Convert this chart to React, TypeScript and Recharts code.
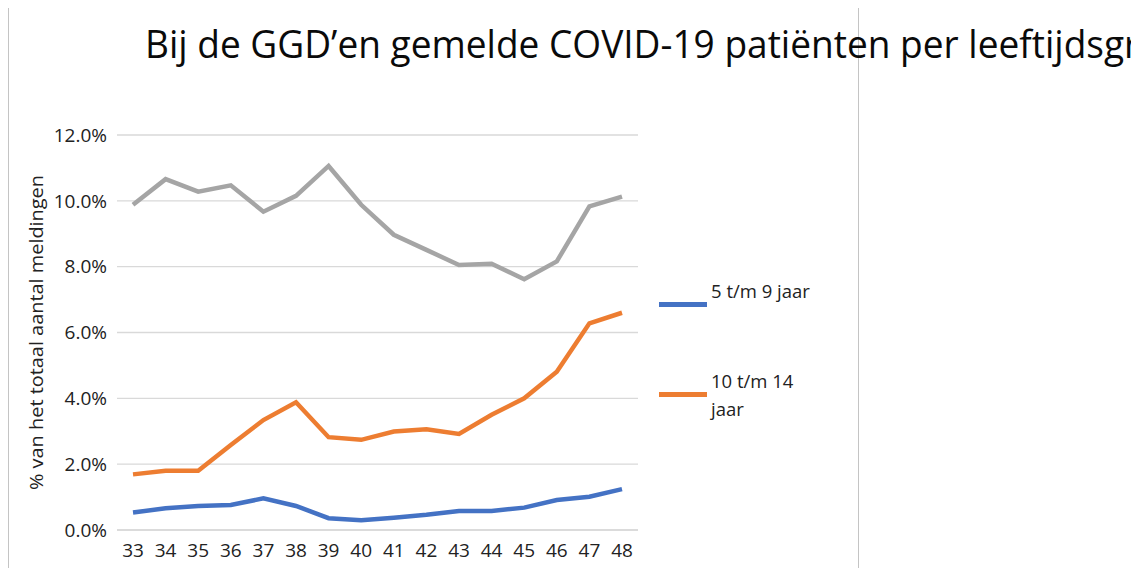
import React from 'react';
import { LineChart, Line, XAxis, YAxis, CartesianGrid, Legend, Label } from 'recharts';

// weeknummers
const weeks = ['33', '34', '35', '36', '37', '38', '39', '40', '41', '42', '43', '44', '45', '46', '47', '48'];

// % van het totaal aantal meldingen
const jaar5tm9 = [0.53, 0.66, 0.73, 0.76, 0.96, 0.73, 0.36, 0.3, 0.37, 0.46, 0.58, 0.58, 0.68, 0.91, 1.01, 1.24];
const jaar10tm14 = [1.69, 1.8, 1.8, 2.58, 3.34, 3.88, 2.82, 2.74, 2.99, 3.06, 2.92, 3.5, 4.0, 4.81, 6.28, 6.6];
const grijzeReeks = [9.88, 10.66, 10.28, 10.47, 9.67, 10.15, 11.06, 9.88, 8.97, 8.51, 8.05, 8.09, 7.62, 8.16, 9.83, 10.13];

const yTicks = [0, 2, 4, 6, 8, 10, 12];
const legendOrder = ['5 t/m 9 jaar', '10 t/m 14 jaar'];

const data = weeks.map((week, i) => ({
  week,
  a: jaar5tm9[i],
  b: jaar10tm14[i],
  c: grijzeReeks[i],
}));

const FONT = "'Open Sans', 'DejaVu Sans', sans-serif";
const TEXT = '#222222';

const LegendBox = ({ payload }: any) => {
  const items = (payload || [])
    .filter((p: any) => legendOrder.includes(p.value))
    .sort((x: any, y: any) => legendOrder.indexOf(x.value) - legendOrder.indexOf(y.value));
  return (
    <div style={{ fontFamily: FONT, fontSize: 18.5, color: TEXT }}>
      {items.map((p: any, i: number) => (
        <div key={i} style={{ position: 'relative', height: 90 }}>
          <div style={{ position: 'absolute', left: 0, top: 25, width: 48, height: 5, background: p.color }} />
          <div style={{ position: 'absolute', left: 52, top: 0, width: 110, lineHeight: '28px' }}>{p.value}</div>
        </div>
      ))}
    </div>
  );
};

const AxisTitle = ({ viewBox }: any) => {
  const cx = viewBox.x + 36;
  const cy = viewBox.y + viewBox.height / 2;
  return (
    <text
      x={cx}
      y={cy}
      transform={`rotate(-90, ${cx}, ${cy})`}
      textAnchor="middle"
      dominantBaseline="central"
      fontFamily={FONT}
      fontSize={17.5}
      fill={TEXT}
      textLength={315}
      lengthAdjust="spacingAndGlyphs"
    >
      % van het totaal aantal meldingen
    </text>
  );
};

export default function App() {
  return (
    <div style={{ position: 'relative', width: 1139, height: 576, margin: -8, overflow: 'hidden', background: '#fff' }}>
      <div
        style={{
          position: 'absolute',
          left: 8,
          top: 7,
          width: 849,
          height: 565,
          border: '1px solid #c4c4c4',
          pointerEvents: 'none',
        }}
      />
      <svg width={1139} height={80} style={{ position: 'absolute', left: 0, top: 0 }}>
        <text x={145} y={58} fontFamily={FONT} fontSize={38} fill="#0a0a0a" textLength={1060} lengthAdjust="spacingAndGlyphs">
          Bij de GGD’en gemelde COVID-19 patiënten per leeftijdsgroep
        </text>
      </svg>
      <div style={{ position: 'absolute', left: 0, top: 0 }}>
        <LineChart width={1139} height={576} data={data} margin={{ top: 135, right: 501, bottom: 0, left: 0 }}>
          <CartesianGrid vertical={false} stroke="#d9d9d9" strokeWidth={1.3} />
          <XAxis
            dataKey="week"
            height={46}
            padding={{ left: 16, right: 16 }}
            tickLine={false}
            axisLine={{ stroke: '#d9d9d9', strokeWidth: 1.3 }}
            tickMargin={8}
            tick={{ fill: TEXT, fontSize: 19, fontFamily: FONT }}
            interval={0}
          />
          <YAxis
            width={117}
            domain={[0, 12]}
            ticks={yTicks}
            axisLine={false}
            tickLine={false}
            tickMargin={4}
            tick={{ fill: TEXT, fontSize: 19, fontFamily: FONT }}
            tickFormatter={(v: number) => `${v.toFixed(1)}%`}
          >
            <Label content={AxisTitle} />
          </YAxis>
          <Legend
            layout="vertical"
            align="center"
            verticalAlign="middle"
            content={LegendBox}
            wrapperStyle={{ left: 659, top: 277, width: 180 }}
          />
          <Line type="linear" dataKey="c" name="overige leeftijdsgroep" stroke="#a5a5a5" strokeWidth={4.5} dot={false} legendType="none" isAnimationActive={false} />
          <Line type="linear" dataKey="a" name="5 t/m 9 jaar" stroke="#4472c4" strokeWidth={4.5} dot={false} isAnimationActive={false} />
          <Line type="linear" dataKey="b" name="10 t/m 14 jaar" stroke="#ed7d31" strokeWidth={4.5} dot={false} isAnimationActive={false} />
        </LineChart>
      </div>
    </div>
  );
}
